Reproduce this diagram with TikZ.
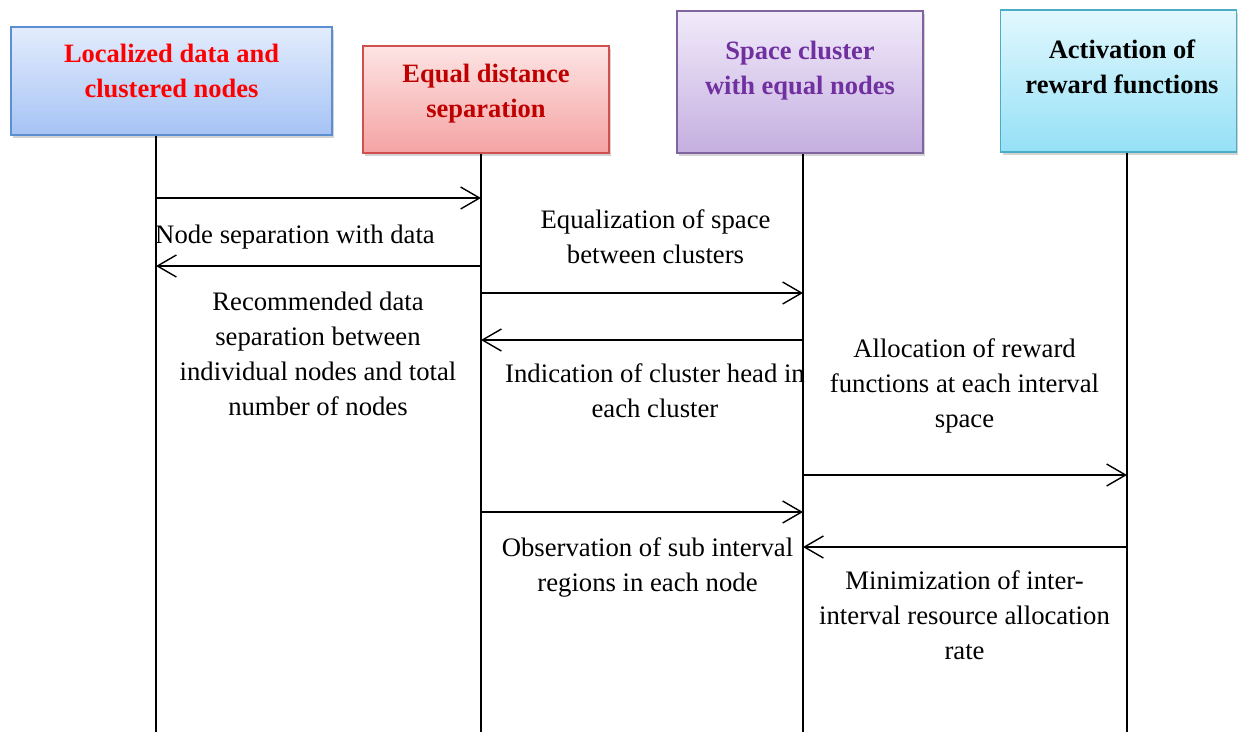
\documentclass[tikz,border=0pt]{standalone}
\usepackage{fontspec}
\setmainfont{Liberation Serif}
\usetikzlibrary{arrows.meta,shadows}
\definecolor{b1line}{HTML}{5B8FD0}\definecolor{b1top}{HTML}{E3ECFC}\definecolor{b1bot}{HTML}{A6C3F5}
\definecolor{b2line}{HTML}{D05050}\definecolor{b2top}{HTML}{FDE4E4}\definecolor{b2bot}{HTML}{F5A3A3}
\definecolor{b3line}{HTML}{8064A2}\definecolor{b3top}{HTML}{F1EAFA}\definecolor{b3bot}{HTML}{C5AFE0}
\definecolor{b4line}{HTML}{4BACC6}\definecolor{b4top}{HTML}{E2F8FE}\definecolor{b4bot}{HTML}{95E0F6}
\definecolor{t2}{HTML}{C00000}\definecolor{t3}{HTML}{7030A0}
\begin{document}
\begin{tikzpicture}[x=1pt,y=-1pt,
  hbox/.style={draw, line width=1.2pt, rectangle, inner sep=0pt,
    drop shadow={shadow xshift=2pt, shadow yshift=-3pt, opacity=0.35}},
  htitle/.style={align=center, inner sep=0pt, font=\fontsize{26.5}{35}\selectfont\bfseries},
  msgtext/.style={align=center, inner sep=0pt, font=\fontsize{26.7}{35}\selectfont},
  life/.style={line width=1.4pt},
  msg/.style={line width=1.4pt, -{Straight Barb[length=19pt,width=22pt,line width=1.4pt]}}]
\useasboundingbox (0,0) rectangle (1238,732);
% header boxes
\node (h1) [hbox, draw=b1line, top color=b1top, bottom color=b1bot, minimum width=321pt, minimum height=108pt] at (171.5,81) {};
\node (h2) [hbox, draw=b2line, top color=b2top, bottom color=b2bot, minimum width=246pt, minimum height=107pt] at (486,99.5) {};
\node (h3) [hbox, draw=b3line, top color=b3top, bottom color=b3bot, minimum width=246pt, minimum height=142pt] at (800,82) {};
\node (h4) [hbox, draw=b4line, top color=b4top, bottom color=b4bot, minimum width=236pt, minimum height=142pt] at (1118.5,81) {};
\node (t1) [htitle, text=red] at (171.5,71) {Localized data and\\clustered nodes};
\node (t2) [htitle, text=t2] at (486,94) {Equal distance\\separation};
\node (t3) [htitle, text=t3] at (800,71) {Space cluster\\with equal nodes};
\node (t4) [htitle, text=black] at (1122,67) {Activation of\\reward functions};
% lifelines
\coordinate (l1a) at (156,135.6); \coordinate (l1b) at (156,732);
\coordinate (l2a) at (481,153.6); \coordinate (l2b) at (481,732);
\coordinate (l3a) at (803,153.6); \coordinate (l3b) at (803,732);
\coordinate (l4a) at (1127,152.6); \coordinate (l4b) at (1127,732);
\draw[life] (l1a) -- (l1b);
\draw[life] (l2a) -- (l2b);
\draw[life] (l3a) -- (l3b);
\draw[life] (l4a) -- (l4b);
% messages
\draw[msg] (l1a |- 0,198) -- (l2a |- 0,198);
\draw[msg] (l2a |- 0,266) -- (l1a |- 0,266);
\draw[msg] (l2a |- 0,293) -- (l3a |- 0,293);
\draw[msg] (l3a |- 0,340) -- (l2a |- 0,340);
\draw[msg] (l3a |- 0,475) -- (l4a |- 0,475);
\draw[msg] (l2a |- 0,512) -- (l3a |- 0,512);
\draw[msg] (l4a |- 0,547) -- (l3a |- 0,547);
% message labels
\node (m1) [msgtext] at (295,237) {Node separation with data};
\node (m2) [msgtext] at (318,353.5) {Recommended data\\separation between\\individual nodes and total\\number of nodes};
\node (m3) [msgtext] at (655.5,236.5) {Equalization of space\\between clusters};
\node (m4) [msgtext] at (655,390.5) {Indication of cluster head in\\each cluster};
\node (m5) [msgtext] at (964.5,386) {Allocation of reward\\functions at each interval\\space};
\node (m6) [msgtext] at (647.5,567.5) {Observation of sub interval\\regions in each node};
\node (m7) [msgtext] at (964.5,615.5) {Minimization of inter-\\interval resource allocation\\rate};
\end{tikzpicture}
\end{document}
